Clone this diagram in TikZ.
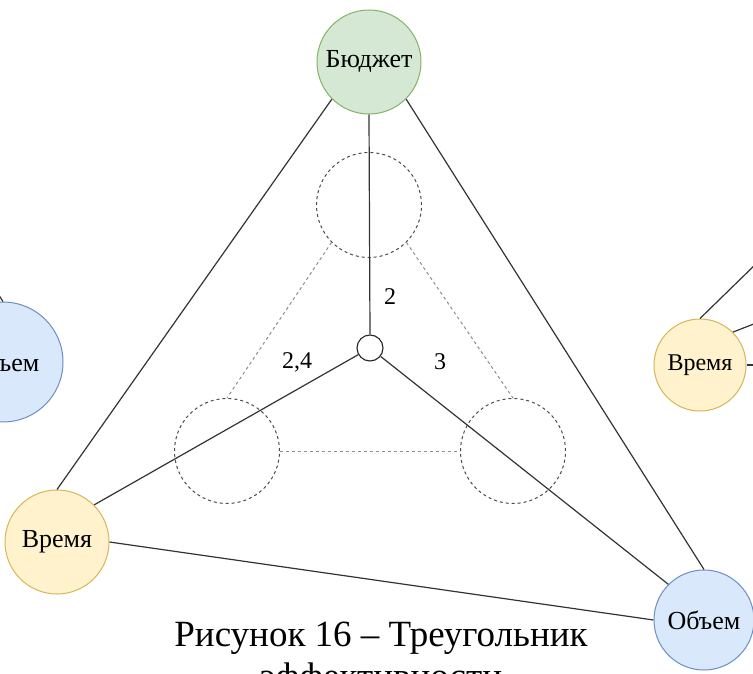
\documentclass[tikz,border=0pt]{standalone}
\usepackage{fontspec}
\setmainfont{Liberation Serif}
\definecolor{budfill}{HTML}{D5E8D4}
\definecolor{budline}{HTML}{82B366}
\definecolor{timfill}{HTML}{FFF2CC}
\definecolor{timline}{HTML}{D6B656}
\definecolor{volfill}{HTML}{DAE8FC}
\definecolor{volline}{HTML}{6C8EBF}
\begin{document}
\begin{tikzpicture}[x=1pt,y=-1pt,
  nodefont/.style={font=\fontsize{26}{30}\selectfont},
  bud/.style={circle,draw=budline,fill=budfill,line width=1pt,inner sep=0pt,minimum size=104pt,nodefont},
  tim/.style={circle,draw=timline,fill=timfill,line width=1pt,inner sep=0pt,minimum size=104pt,nodefont},
  vol/.style={circle,draw=volline,fill=volfill,line width=1pt,inner sep=0pt,minimum size=100pt,nodefont},
  smallc/.style={circle,draw=black!85,fill=white,line width=1.1pt,inner sep=0pt,minimum size=26pt},
  dc/.style={circle,draw=black!70,dash pattern=on 3pt off 3pt,line width=1pt,inner sep=0pt,minimum size=105pt},
  conn/.style={draw=black!80,line width=1.2pt},
  dcon/.style={draw=black!45,dash pattern=on 3pt off 3pt,line width=1pt},
  lab/.style={inner sep=0pt,font=\fontsize{24}{28}\selectfont},
  captext/.style={inner sep=0pt,anchor=base,font=\fontsize{37}{42}\selectfont}
]
\useasboundingbox (0,0) rectangle (753,674);
\clip (0,0) rectangle (753,674);

% dashed circles
\node[dc] (dt) at (369,205) {};
\node[dc] (dl) at (227,451) {};
\node[dc] (dr) at (513,451) {};

% main nodes
\node[bud] (b) at (369,62) {Бюджет};
\node[tim] (vl) at (57,542) {Время};
\node[vol] (o) at (704,620) {Объем};
\node[tim,minimum size=92pt,font=\fontsize{24}{28}\selectfont] (vr) at (700,365) {Время};
\node[vol,minimum size=120pt] (ol) at (3,362) {Объем};
\node[smallc] (s) at (370,348) {};

% dashed connectors
\draw[dcon] (dt.south west) -- (dl.north);
\draw[dcon] (dt.south east) -- (dr.north);
\draw[dcon] (dl.east) -- (dr.west);

% solid connectors
\draw[conn] (b.south west) -- (vl.north);
\draw[conn] (b.south east) -- (o.north);
\draw[conn] (b.south) -- (s.north);
\draw[conn] (vl.north east) -- (s);
\draw[conn] (vl.east) -- (o.west);
\draw[conn] (s) -- (o.north west);

% connectors leaving the picture
\coordinate (rq1) at (800,221);
\coordinate (rq2) at (800,306);
\coordinate (rq3) at (800,365);
\coordinate (lq1) at (-25,258);
\draw[conn] (vr.north) -- (rq1);
\draw[conn] (vr.north east) -- (rq2);
\draw[conn] (vr.east) -- (rq3);
\draw[conn] (lq1) -- (ol.north);

% labels
\node[lab] (l2) at (390,297) {2};
\node[lab] (l24) at (297,362) {2,4};
\node[lab] (l3) at (440,362) {3};

% caption
\node[captext] (c1) at (381,646) {Рисунок 16 – Треугольник};
\node[captext] (c2) at (381,688) {эффективности};
\end{tikzpicture}
\end{document}
